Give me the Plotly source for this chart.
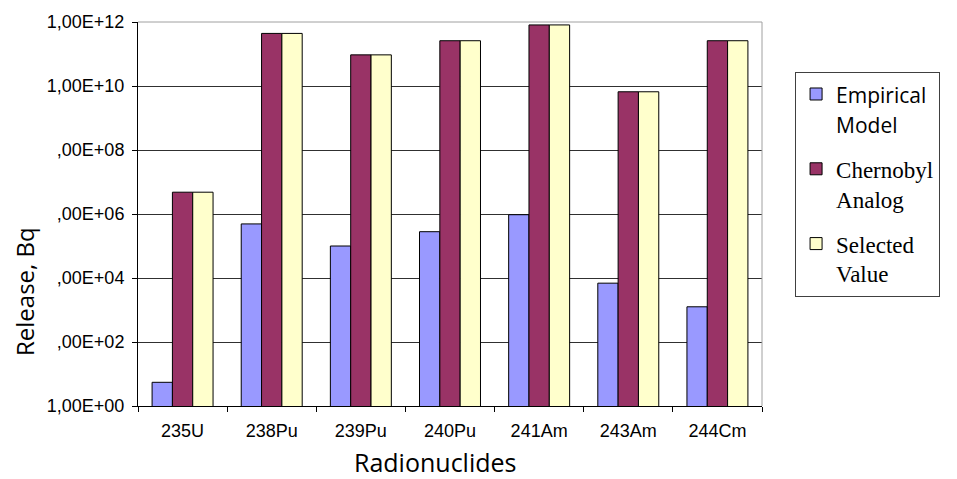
import plotly.graph_objects as go

categories = ["235U", "238Pu", "239Pu", "240Pu", "241Am", "243Am", "244Cm"]
empirical = [5.5e0, 4.9e5, 1.0e5, 2.8e5, 9.5e5, 6.9e3, 1.26e3]
chernobyl = [4.8e6, 4.4e11, 9.4e10, 2.6e11, 8.1e11, 6.6e9, 2.6e11]
selected = [4.8e6, 4.4e11, 9.4e10, 2.6e11, 8.1e11, 6.6e9, 2.6e11]

y_tickvals = [1e0, 1e2, 1e4, 1e6, 1e8, 1e10, 1e12]
y_ticktext = ["1,00E+00", ",00E+02", ",00E+04", ",00E+06", ",00E+08", "1,00E+10", "1,00E+12"]

series_names = [
    "<span style=\"font-family:'Open Sans';font-size:21px\">Empirical<br>Model</span>",
    "Chernobyl<br>Analog",
    "Selected<br>Value",
]
series_colors = ["#9999FF", "#993366", "#FFFFCC"]
series_values = [empirical, chernobyl, selected]

fig = go.Figure()
for i, (name, color, vals) in enumerate(zip(series_names, series_colors, series_values)):
    fig.add_trace(go.Bar(
        x=categories, y=vals, name=name, legendgroup=f"g{i}",
        marker=dict(color=color, line=dict(color="black", width=1)),
    ))

fig.update_layout(
    width=957, height=479,
    margin=dict(l=138, r=195, t=18, b=73),
    paper_bgcolor="white", plot_bgcolor="white",
    barmode="group", bargap=0.316, bargroupgap=0,
    showlegend=True,
    legend=dict(
        x=1.053, xanchor="left", y=0.871, yanchor="top",
        bordercolor="#404040", borderwidth=1,
        font=dict(family="Liberation Serif, Times New Roman, serif", size=23, color="black"),
        valign="top", tracegroupgap=12,
    ),
    font=dict(family="Liberation Sans, Arial, sans-serif", size=18, color="black"),
    xaxis=dict(
        type="category", showgrid=False,
        showline=True, linecolor="black", linewidth=1,
        ticks="outside", tickson="boundaries", ticklen=5, tickcolor="black",
        ticklabelstandoff=8,
        tickfont=dict(family="Liberation Sans, Arial, sans-serif", size=18, color="black"),
    ),
    yaxis=dict(
        type="log", range=[0, 12],
        tickvals=y_tickvals, ticktext=y_ticktext,
        showgrid=True, gridcolor="#303030", gridwidth=1,
        showline=True, linecolor="black", linewidth=1,
        ticks="outside", ticklen=5, tickcolor="black",
        ticklabelstandoff=4,
        tickfont=dict(family="Liberation Sans, Arial, sans-serif", size=18, color="black"),
        zeroline=False,
    ),
    annotations=[
        dict(text="Radionuclides", xref="paper", yref="paper", x=0.476, y=-0.147,
             xanchor="center", yanchor="middle", showarrow=False,
             font=dict(family="Open Sans, sans-serif", size=25, color="black")),
        dict(text="Release, Bq", xref="paper", yref="paper", x=-0.183, y=0.299,
             xanchor="center", yanchor="middle", showarrow=False, textangle=-90,
             font=dict(family="Open Sans, sans-serif", size=24, color="black")),
    ],
    shapes=[
        dict(type="line", xref="paper", yref="paper", x0=0, x1=1, y0=1, y1=1,
             line=dict(color="#a0a0a0", width=1), layer="above"),
        dict(type="line", xref="paper", yref="paper", x0=1, x1=1, y0=0, y1=1,
             line=dict(color="#a0a0a0", width=1), layer="above"),
    ],
)

fig.write_html("out.html")
